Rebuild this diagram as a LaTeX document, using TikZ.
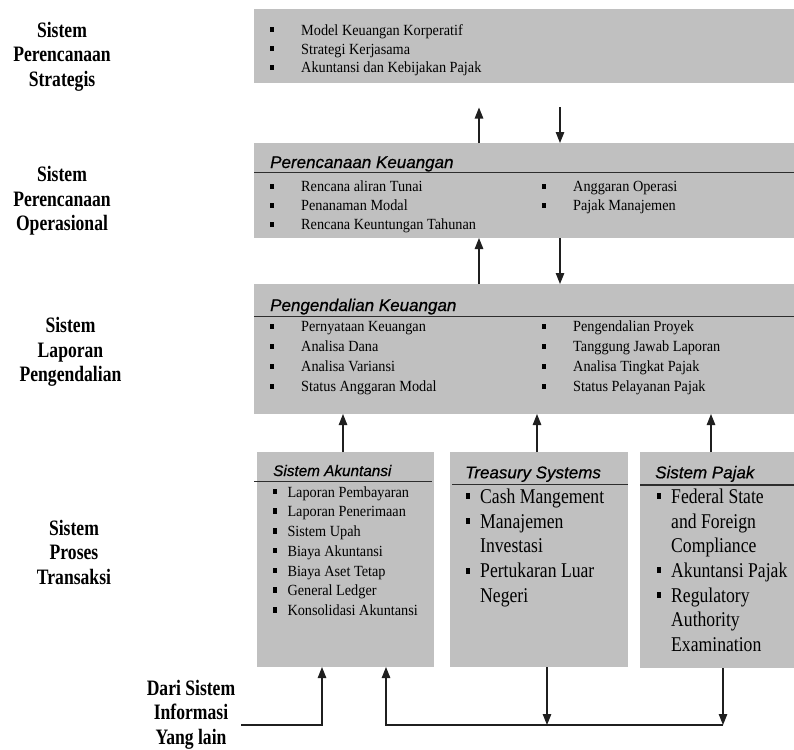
\documentclass[tikz,border=0pt]{standalone}
\usepackage{fontspec}
\setmainfont{Liberation Serif}
\newfontfamily\lblfam{Liberation Serif}[FakeStretch=0.8]
\newfontfamily\txtfam{Liberation Serif}[FakeStretch=0.92]
\newfontfamily\bigfam{Liberation Serif}[FakeStretch=0.84]
\newfontfamily\ttlfam{Liberation Sans}[FakeBold=0.6]
\usetikzlibrary{arrows.meta}
\definecolor{boxgray}{RGB}{192,192,192}
\definecolor{linegray}{RGB}{45,45,45}

% small square bullet: centre x, centre y, width, height
\newcommand\sqmark[4]{\fill[black] ({#1-#3/2},{#2-#4/2}) rectangle ({#1+#3/2},{#2+#4/2});}

\tikzset{
  panel/.style={fill=boxgray, draw=none, inner sep=0pt, outer sep=0pt},
  sidelabel/.style={font=\lblfam\bfseries\fontsize{22}{24.5}\selectfont, inner sep=0pt, anchor=base},
  itemtext/.style={font=\txtfam\fontsize{15.5}{18.7}\selectfont, inner sep=0pt, anchor=base west},
  bigtext/.style={font=\bigfam\fontsize{21}{25}\selectfont, inner sep=0pt, anchor=base west},
  paneltitle/.style={font=\ttlfam\itshape\fontsize{17}{20}\selectfont, inner sep=0pt, anchor=base west},
  smalltitle/.style={paneltitle, font=\ttlfam\itshape\fontsize{15.3}{18}\selectfont},
  rule/.style={draw=linegray, line width=1.5pt},
  flow/.style={draw=black!88, line width=1.1pt, -{Triangle[length=11pt,width=8.5pt]}},
}

\begin{document}
\begin{tikzpicture}[x=1pt, y=-1pt]
\fill[white] (0,0) rectangle (794,749);
\useasboundingbox (0,0) rectangle (794,749);

% ---------- panels ----------
\node[panel, minimum width=540pt, minimum height=74pt]  (b1) at (524,46)    {};
\node[panel, minimum width=540pt, minimum height=95pt]  (b2) at (524,190.5) {};
\node[panel, minimum width=540pt, minimum height=130pt] (b3) at (524,349)   {};
\node[panel, minimum width=177pt, minimum height=215pt] (bA) at (345.5,559.5) {};
\node[panel, minimum width=178pt, minimum height=215pt] (bT) at (539,559.5) {};
\node[panel, minimum width=154pt, minimum height=216pt] (bP) at (717,560)   {};

% ---------- level labels ----------
\node[sidelabel] (l1) at (62,37.5)   {\begin{tabular}[t]{@{}c@{}}Sistem\\Perencanaan\\Strategis\end{tabular}};
\node[sidelabel] (l2) at (62,181.5)  {\begin{tabular}[t]{@{}c@{}}Sistem\\Perencanaan\\Operasional\end{tabular}};
\node[sidelabel] (l3) at (70.5,332.5) {\begin{tabular}[t]{@{}c@{}}Sistem\\Laporan\\Pengendalian\end{tabular}};
\node[sidelabel] (l4) at (74,535)    {\begin{tabular}[t]{@{}c@{}}Sistem\\Proses\\Transaksi\end{tabular}};
\node[sidelabel] (l5) at (191,695)   {\begin{tabular}[t]{@{}c@{}}Dari Sistem\\Informasi\\Yang lain\end{tabular}};

% ---------- strategic planning panel ----------
\sqmark{272}{30}{4}{5}   \node[itemtext] (s1) at (301,35.5) {Model Keuangan Korperatif};
\sqmark{272}{49}{4}{5}   \node[itemtext] (s2) at (301,54.5) {Strategi Kerjasama};
\sqmark{272}{67.5}{4}{5} \node[itemtext] (s3) at (301,73)   {Akuntansi dan Kebijakan Pajak};

% ---------- financial planning panel ----------
\node[paneltitle] (t2) at (270,168) {Perencanaan Keuangan};
\draw[rule] (254,172.7) -- (794,172.7);
\sqmark{272}{186}{4}{5} \node[itemtext] (o1) at (301,191.5) {Rencana aliran Tunai};
\sqmark{272}{205}{4}{5} \node[itemtext] (o2) at (301,210.5) {Penanaman Modal};
\sqmark{272}{224}{4}{5} \node[itemtext] (o3) at (301,229.5) {Rencana Keuntungan Tahunan};
\sqmark{544}{186}{4}{5} \node[itemtext] (o4) at (573,191.5) {Anggaran Operasi};
\sqmark{544}{205}{4}{5} \node[itemtext] (o5) at (573,210.5) {Pajak Manajemen};

% ---------- financial control panel ----------
\node[paneltitle] (t3) at (270,311) {Pengendalian Keuangan};
\draw[rule] (254,316.7) -- (794,316.7);
\sqmark{272}{326}{4}{5} \node[itemtext] (c1) at (301,331.5) {Pernyataan Keuangan};
\sqmark{272}{346}{4}{5} \node[itemtext] (c2) at (301,351.5) {Analisa Dana};
\sqmark{272}{366}{4}{5} \node[itemtext] (c3) at (301,371.5) {Analisa Variansi};
\sqmark{272}{386}{4}{5} \node[itemtext] (c4) at (301,391.5) {Status Anggaran Modal};
\sqmark{544}{326}{4}{5} \node[itemtext] (c5) at (573,331.5) {Pengendalian Proyek};
\sqmark{544}{346}{4}{5} \node[itemtext] (c6) at (573,351.5) {Tanggung Jawab Laporan};
\sqmark{544}{366}{4}{5} \node[itemtext] (c7) at (573,371.5) {Analisa Tingkat Pajak};
\sqmark{544}{386}{4}{5} \node[itemtext] (c8) at (573,391.5) {Status Pelayanan Pajak};

% ---------- accounting system panel ----------
\node[smalltitle] (tA) at (273,476) {Sistem Akuntansi};
\draw[rule] (254,481.7) -- (432,481.7);
\sqmark{275}{491.5}{4}{5.5} \node[itemtext] (a1) at (287.3,497)   {Laporan Pembayaran};
\sqmark{275}{511.2}{4}{5.5} \node[itemtext] (a2) at (287.3,516.7) {Laporan Penerimaan};
\sqmark{275}{531}{4}{5.5}   \node[itemtext] (a3) at (287.3,536.5) {Sistem Upah};
\sqmark{275}{550.7}{4}{5.5} \node[itemtext] (a4) at (287.3,556.2) {Biaya Akuntansi};
\sqmark{275}{570.5}{4}{5.5} \node[itemtext] (a5) at (287.3,576)   {Biaya Aset Tetap};
\sqmark{275}{590.2}{4}{5.5} \node[itemtext] (a6) at (287.3,595.7) {General Ledger};
\sqmark{275}{610}{4}{5.5}   \node[itemtext] (a7) at (287.3,615.5) {Konsolidasi Akuntansi};

% ---------- treasury panel ----------
\node[paneltitle] (tT) at (465,478.3) {Treasury Systems};
\draw[rule] (452,484.3) -- (628,484.3);
\sqmark{468}{496.3}{4.5}{6} \node[bigtext] (r1) at (480,503.3) {Cash Mangement};
\sqmark{468}{521}{4.5}{6}   \node[bigtext] (r2) at (480,528)   {Manajemen};
                            \node[bigtext] (r3) at (480,552.5) {Investasi};
\sqmark{468}{570.5}{4.5}{6} \node[bigtext] (r4) at (480,577.5) {Pertukaran Luar};
                            \node[bigtext] (r5) at (480,602.5) {Negeri};

% ---------- tax panel ----------
\node[paneltitle] (tP) at (655,478.3) {Sistem Pajak};
\draw[rule] (640,485) -- (794,485);
\sqmark{659}{496.3}{4.5}{6} \node[bigtext] (p1) at (671,503.3) {Federal State};
                            \node[bigtext] (p2) at (671,528)   {and Foreign};
                            \node[bigtext] (p3) at (671,552.5) {Compliance};
\sqmark{659}{570.3}{4.5}{6} \node[bigtext] (p4) at (671,577.3) {Akuntansi Pajak};
\sqmark{659}{595}{4.5}{6}   \node[bigtext] (p5) at (671,602)   {Regulatory};
                            \node[bigtext] (p6) at (671,626.7) {Authority};
                            \node[bigtext] (p7) at (671,651.5) {Examination};

% ---------- connectors between levels ----------
\coordinate (u1) at (479,0);
\coordinate (d1) at (560,0);
\coordinate (gap) at (0,107.5);
\draw[flow] (u1 |- b2.north) -- (u1 |- gap);
\draw[flow] (d1 |- gap) -- (d1 |- b2.north);
\draw[flow] (u1 |- b3.north) -- (u1 |- b2.south);
\draw[flow] (d1 |- b2.south) -- (d1 |- b3.north);

\coordinate (k1) at (343,0);
\coordinate (k2) at (537,0);
\coordinate (k3) at (711,0);
\draw[flow] (k1 |- bA.north) -- (k1 |- b3.south);
\draw[flow] (k2 |- bT.north) -- (k2 |- b3.south);
\draw[flow] (k3 |- bP.north) -- (k3 |- b3.south);

% ---------- feeds along the bottom ----------
\coordinate (src) at (241,725);
\coordinate (jS) at (322,725);
\coordinate (jA) at (386,725);
\coordinate (jT) at (547,725);
\coordinate (jP) at (723,725);
\draw[flow] (src) -- (jS) -- (jS |- bA.south);
\draw[flow] (jP) -- (jA) -- (jA |- bA.south);
\draw[flow] (jT |- bT.south) -- (jT);
\draw[flow] (jP |- bP.south) -- (jP);
\end{tikzpicture}
\end{document}
